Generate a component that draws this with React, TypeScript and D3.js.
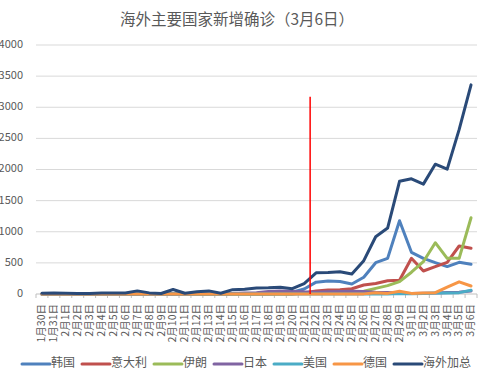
import React from "react";
import * as d3 from "d3";

const categories = [
  "1月30日", "1月31日",
  "2月1日", "2月2日", "2月3日", "2月4日", "2月5日", "2月6日", "2月7日", "2月8日", "2月9日", "2月10日",
  "2月11日", "2月12日", "2月13日", "2月14日", "2月15日", "2月16日", "2月17日", "2月18日", "2月19日", "2月20日",
  "2月21日", "2月22日", "2月23日", "2月24日", "2月25日", "2月26日", "2月27日", "2月28日", "2月29日",
  "3月1日", "3月2日", "3月3日", "3月4日", "3月5日", "3月6日",
];

const korea = [0, 0, 0, 1, 0, 1, 0, 0, 1, 0, 1, 0, 0, 0, 0, 0, 0, 1, 1, 1, 15, 30, 80, 190, 210, 200, 160, 270, 503, 573, 1177, 670, 573, 503, 440, 509, 477];
const italy = [0, 0, 0, 0, 0, 0, 0, 0, 0, 0, 0, 0, 0, 0, 0, 0, 0, 0, 0, 0, 0, 0, 18, 50, 65, 68, 85, 145, 170, 212, 222, 573, 369, 439, 509, 771, 734];
const iran = [0, 0, 0, 0, 0, 0, 0, 0, 0, 0, 0, 0, 0, 0, 0, 0, 0, 0, 0, 0, 0, 2, 13, 10, 15, 18, 34, 44, 90, 135, 198, 350, 519, 824, 573, 573, 1225];
const japan = [0, 0, 1, 0, 0, 0, 0, 0, 0, 0, 0, 0, 0, 5, 10, 5, 10, 15, 20, 40, 50, 45, 35, 30, 35, 40, 45, 40, 30, 25, 15, 10, 12, 15, 25, 30, 50];
const usa = [0, 0, 0, 0, 0, 0, 0, 0, 0, 0, 0, 0, 0, 0, 0, 0, 0, 0, 0, 0, 0, 0, 0, 0, 0, 0, 0, 0, 0, 2, 8, 6, 10, 15, 18, 22, 60];
const germany = [0, 0, 0, 0, 0, 0, 0, 0, 0, 0, 0, 0, 0, 0, 0, 0, 0, 0, 0, 0, 0, 0, 0, 0, 0, 0, 0, 2, 20, 10, 43, 10, 18, 22, 110, 195, 128];
const overseasTotal = [12, 15, 12, 10, 8, 15, 18, 15, 50, 18, 8, 72, 12, 35, 50, 12, 70, 78, 95, 100, 110, 85, 168, 340, 345, 358, 320, 535, 920, 1060, 1810, 1850, 1765, 2085, 2005, 2640, 3360];

const seriesNames = ["韩国", "意大利", "伊朗", "日本", "美国", "德国", "海外加总"];
const seriesValues = [korea, italy, iran, japan, usa, germany, overseasTotal];
const seriesColors = ["#4F81BD", "#C0504D", "#9BBB59", "#8064A2", "#4BACC6", "#F79646", "#2A4A78"];

const yTicks = [0, 500, 1000, 1500, 2000, 2500, 3000, 3500, 4000];
const markerValue = 3170;
const markerAfter = "2月21日";
const title = "海外主要国家新增确诊（3月6日）";

const W = 487;
const H = 381;
const FONT = "'Noto Sans CJK SC', 'Noto Sans', sans-serif";

export default function App() {
  const left = 36;
  const right = 477;
  const top = 45;
  const bottom = 294;

  const x = d3.scaleBand<string>().domain(categories).range([left, right]).padding(0);
  const y = d3.scaleLinear().domain([0, 4000]).range([bottom, top]);
  const cx = (c: string) => (x(c) as number) + x.bandwidth() / 2;

  const line = d3
    .line<number>()
    .x((_, i) => cx(categories[i]))
    .y((d) => y(d));

  const markerX = (x(markerAfter) as number) + x.bandwidth();

  // legend layout
  const legendY = 364;
  const lineLen = 28;
  let cursor = 22;
  const legendItems = seriesNames.map((name, i) => {
    const start = cursor;
    const textW = name.length * 12;
    cursor = start + lineLen + 1 + textW + 7;
    return { name, color: seriesColors[i], start };
  });

  const boundaries = categories.map((c) => x(c) as number).concat([right]);

  return (
    <svg
      width={W}
      height={H}
      style={{ position: "absolute", left: 0, top: 0, background: "#fff" }}
      fontFamily={FONT}
    >
      <text x={237} y={21} textAnchor="middle" dominantBaseline="middle" fontSize={15.5} fill="#595959">
        {title}
      </text>

      {yTicks.map((t) => (
        <g key={t}>
          {t > 0 && (
            <line x1={left} x2={right} y1={y(t)} y2={y(t)} stroke="#D9D9D9" strokeWidth={1} />
          )}
          <text x={23} y={y(t)} textAnchor="end" dominantBaseline="middle" fontSize={11} fill="#595959">
            {t}
          </text>
        </g>
      ))}

      <line x1={left} x2={right} y1={bottom} y2={bottom} stroke="#BFBFBF" strokeWidth={1} />
      {boundaries.map((b, i) => (
        <line key={i} x1={b} x2={b} y1={bottom} y2={bottom + 4} stroke="#BFBFBF" strokeWidth={1} />
      ))}

      {categories.map((c) => (
        <text
          key={c}
          transform={`translate(${cx(c)},${bottom + 10}) rotate(-90)`}
          textAnchor="end"
          dy="0.32em"
          fontSize={10.5}
          fill="#595959"
        >
          {c}
        </text>
      ))}

      {seriesValues.map((vals, i) => (
        <path
          key={seriesNames[i]}
          d={line(vals) || ""}
          fill="none"
          stroke={seriesColors[i]}
          strokeWidth={3}
          strokeLinejoin="round"
          strokeLinecap="round"
        />
      ))}

      <line x1={markerX} x2={markerX} y1={y(markerValue)} y2={y(0)} stroke="#FF0000" strokeWidth={1.5} />

      {legendItems.map((it) => (
        <g key={it.name}>
          <line
            x1={it.start}
            x2={it.start + lineLen}
            y1={legendY}
            y2={legendY}
            stroke={it.color}
            strokeWidth={3}
            strokeLinecap="round"
          />
          <text
            x={it.start + lineLen + 1}
            y={legendY}
            dominantBaseline="middle"
            fontSize={12}
            fill="#595959"
          >
            {it.name}
          </text>
        </g>
      ))}
    </svg>
  );
}
